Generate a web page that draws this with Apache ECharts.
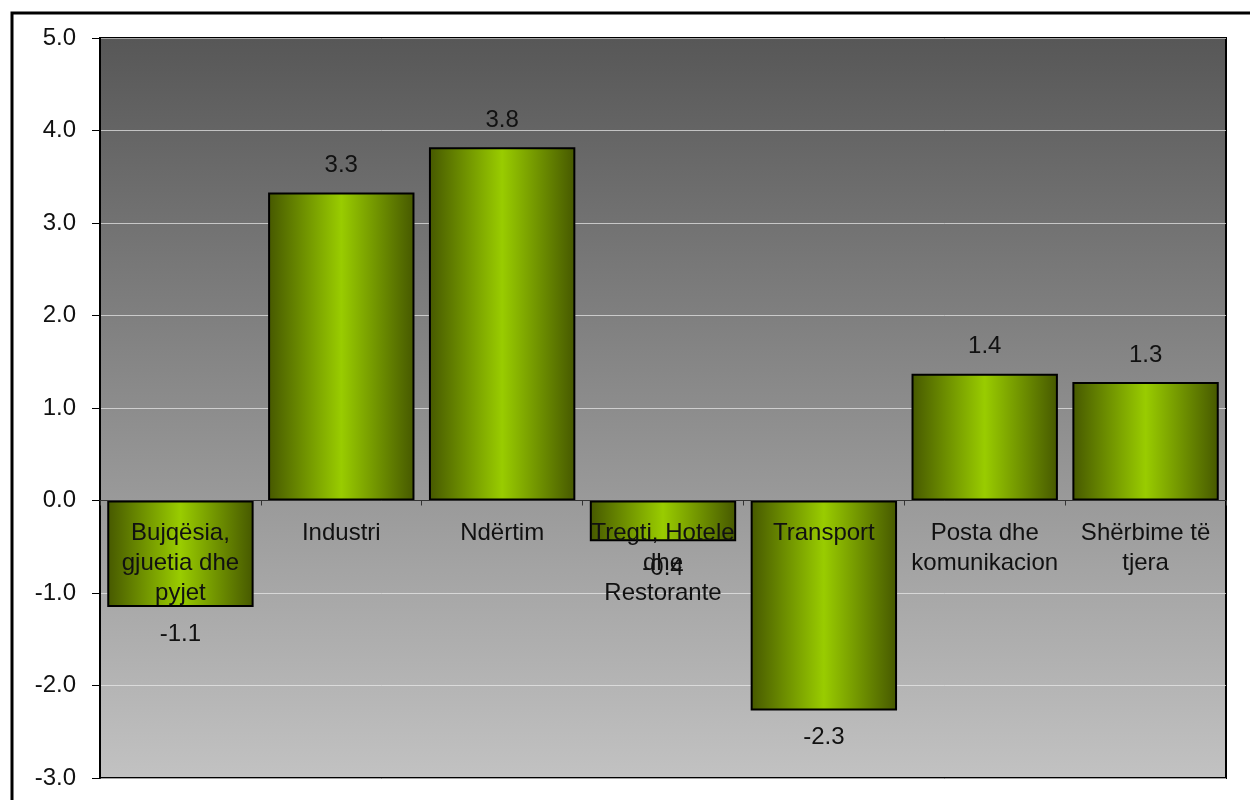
<!DOCTYPE html>
<html>
<head>
<meta charset="utf-8">
<script src="https://cdn.jsdelivr.net/npm/echarts@6/dist/echarts.min.js"></script>
<style>
html,body{margin:0;padding:0;background:#fff;}
#chart{width:1250px;height:800px;}
</style>
</head>
<body>
<div id="chart"></div>
<script>
var categories = ["Bujqësia,\ngjuetia dhe\npyjet", "Industri", "Ndërtim", "Tregti, Hotele\ndhe\nRestorante", "Transport", "Posta dhe\nkomunikacion", "Shërbime të\ntjera"];
var values = [-1.15, 3.33, 3.82, -0.44, -2.27, 1.37, 1.28];
var yMin = -3, yMax = 5, yStep = 1;

var chart = echarts.init(document.getElementById('chart'), null, {renderer: 'canvas'});
var font = 'Liberation Sans, Arial, sans-serif';
var gridBottom = 22;
function build(xOffset) {
  return {
    animation: false,
    backgroundColor: '#ffffff',
    graphic: [{
      type: 'rect', z: -10, silent: true,
      shape: {x: 12, y: 13, width: 1260, height: 820},
      style: {fill: '#ffffff', stroke: '#000000', lineWidth: 3}
    }],
    grid: {
      left: 100, right: 24, top: 38, bottom: gridBottom,
      containLabel: false,
      outerBoundsMode: 'none',
      show: true,
      borderColor: '#000000', borderWidth: 2,
      backgroundColor: new echarts.graphic.LinearGradient(0, 0, 0, 1, [
        {offset: 0, color: '#575757'},
        {offset: 1, color: '#c2c2c2'}
      ])
    },
    xAxis: {
      type: 'category',
      data: categories,
      z: 10,
      offset: xOffset,
      axisLine: {onZero: false, lineStyle: {color: '#333333', width: 1}},
      axisTick: {show: true, length: 5, lineStyle: {color: '#333333'}},
      axisLabel: {
        interval: 0, color: '#111111', fontFamily: font, fontSize: 24,
        lineHeight: 30, margin: 18, align: 'center', hideOverlap: false
      },
      splitLine: {show: false}
    },
    yAxis: {
      type: 'value',
      min: yMin, max: yMax, interval: yStep,
      axisLine: {show: true, lineStyle: {color: '#000000', width: 2}},
      axisTick: {show: true, length: 8, lineStyle: {color: '#000000'}},
      axisLabel: {
        color: '#111111', fontFamily: font, fontSize: 24, margin: 24,
        formatter: function (v) { return v.toFixed(1); }
      },
      splitLine: {show: true, lineStyle: {color: 'rgba(235,235,235,0.7)', width: 1}}
    },
    series: [{
      type: 'bar',
      data: values,
      barCategoryGap: '9%',
      itemStyle: {
        color: new echarts.graphic.LinearGradient(0, 0, 1, 0, [
          {offset: 0, color: '#465800'},
          {offset: 0.5, color: '#99cc00'},
          {offset: 1, color: '#465800'}
        ]),
        borderColor: '#000000', borderWidth: 2
      },
      label: {
        show: true, position: 'outside', distance: 15,
        color: '#111111', fontFamily: font, fontSize: 24,
        formatter: function (p) { return p.value.toFixed(1); }
      }
    }]
  };
}
chart.setOption(build(0));
var zeroY = chart.convertToPixel({yAxisIndex: 0}, 0);
var bottomY = chart.getHeight() - gridBottom;
chart.setOption(build(zeroY - bottomY));
</script>
</body>
</html>
